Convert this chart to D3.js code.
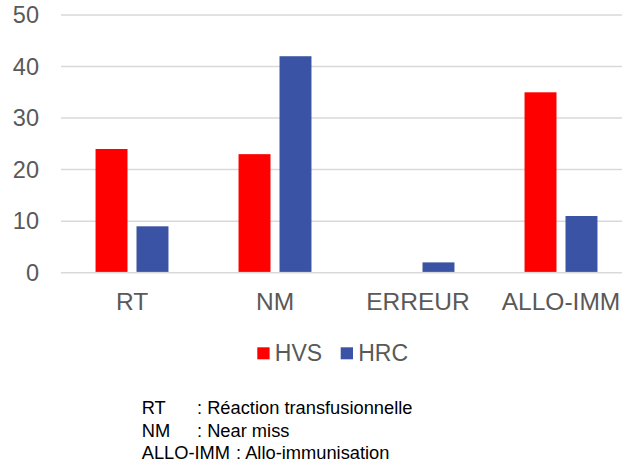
<!DOCTYPE html>
<html>
<head>
<meta charset="utf-8">
<script src="https://cdn.jsdelivr.net/npm/d3@7"></script>
<style>
  body { margin: 0; background: #fff; }
  text { font-family: "Liberation Sans", Arial, sans-serif; }
</style>
</head>
<body>
<div id="chart"></div>
<script>
const categories = ["RT", "NM", "ERREUR", "ALLO-IMM"]
const series = ["HVS", "HRC"]
const hvs = [24, 23, 0, 35]
const hrc = [9, 42, 2, 11]
const yTicks = [0, 10, 20, 30, 40, 50]
const notes = [
  ["RT", ": Réaction transfusionnelle"],
  ["NM", ": Near miss"],
  ["ALLO-IMM", ": Allo-immunisation"]
]

const colors = { HVS: "#ff0000", HRC: "#3a53a4" }

const width = 622
const height = 470

const svg = d3.select("#chart")
  .append("svg")
  .attr("width", width)
  .attr("height", height)

const x0 = d3.scaleBand()
  .domain(categories)
  .range([60.5, 632.5])
  .paddingInner(0.49)
  .paddingOuter(0.245)

const x1 = d3.scaleBand()
  .domain(series)
  .range([0, x0.bandwidth()])
  .paddingInner(0.22)

const y = d3.scaleLinear()
  .domain([0, 50])
  .range([272.7, 15])

// gridlines
svg.append("g")
  .selectAll("line")
  .data(yTicks)
  .enter()
  .append("line")
  .attr("x1", 61)
  .attr("x2", 640)
  .attr("y1", d => y(d))
  .attr("y2", d => y(d))
  .style("stroke", "#d9d9d9")
  .style("stroke-width", 1.5)

// y tick labels
svg.append("g")
  .selectAll("text")
  .data(yTicks)
  .enter()
  .append("text")
  .attr("x", 39)
  .attr("y", d => y(d))
  .attr("dy", "0.35em")
  .attr("text-anchor", "end")
  .style("font-size", "23.5px")
  .style("fill", "#595959")
  .text(d => d)

// bars
const rows = categories.map((c, i) => ({ cat: c, HVS: hvs[i], HRC: hrc[i] }))

const group = svg.append("g")
  .selectAll("g")
  .data(rows)
  .enter()
  .append("g")
  .attr("transform", d => `translate(${x0(d.cat)},0)`)

group.selectAll("rect")
  .data(d => series.map(s => ({ key: s, value: d[s] })).filter(v => v.value > 0))
  .enter()
  .append("rect")
  .attr("x", d => x1(d.key))
  .attr("width", x1.bandwidth())
  .attr("y", d => y(d.value))
  .attr("height", d => y(0) - y(d.value) - 0.8)
  .attr("fill", d => colors[d.key])

// x labels
svg.append("g")
  .selectAll("text")
  .data(categories)
  .enter()
  .append("text")
  .attr("x", d => x0(d) + x0.bandwidth() / 2)
  .attr("y", 309.5)
  .attr("text-anchor", "middle")
  .style("font-size", "24.5px")
  .style("fill", "#595959")
  .text(d => d)

// legend
const legendX = [257.3, 340.7]
const legend = svg.append("g")
  .selectAll("g")
  .data(series)
  .enter()
  .append("g")
  .attr("transform", (d, i) => `translate(${legendX[i]},0)`)

legend.append("rect")
  .attr("x", 0)
  .attr("y", 347.3)
  .attr("width", 12.3)
  .attr("height", 12)
  .attr("fill", d => colors[d])

legend.append("text")
  .attr("x", 17.5)
  .attr("y", 361)
  .style("font-size", "23px")
  .style("fill", "#595959")
  .text(d => d)

// abbreviations
const noteRows = svg.append("g")
  .selectAll("text")
  .data(notes)
  .enter()
  .append("text")
  .attr("y", (d, i) => 414 + i * 22.7)
  .style("font-size", "18.3px")
  .style("fill", "#000")

noteRows.append("tspan")
  .attr("x", 141.7)
  .text(d => d[0])

noteRows.append("tspan")
  .attr("x", (d, i) => i < 2 ? 197 : 236)
  .text(d => d[1])
</script>
</body>
</html>
